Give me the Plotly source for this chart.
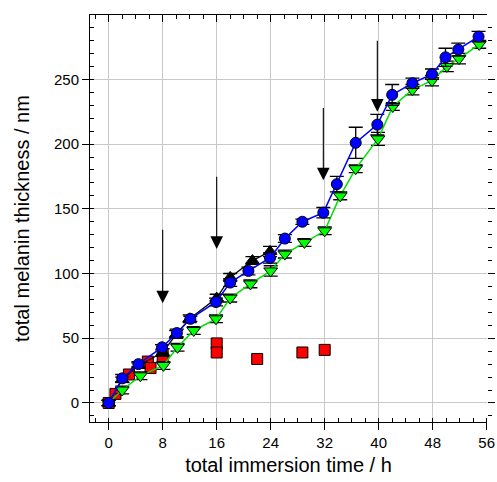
import plotly.graph_objects as go

# ---- data ----
blue_x = [0, 2, 4.4, 7.9, 10.1, 12.1, 15.9, 18, 20.7, 23.9, 26.1, 28.7, 31.8, 33.8, 36.6, 39.8, 42, 45, 47.9, 49.9, 51.8, 54.8]
blue_y = [0, 19, 30, 43, 54, 65, 78, 93, 102, 112, 127, 140, 147, 169, 201, 215, 238, 247, 254, 267, 273, 283]
blue_err = [2, 3, 2, 2, 3, 2, 3, 3, 3, 4, 3, 2, 4, 6, 12, 8, 8, 4, 4, 7, 5, 4]

green_x = [0, 2, 4.7, 8.1, 10.2, 12.6, 15.9, 18, 21, 24, 26.1, 29, 32, 34.3, 36.6, 39.9, 42.1, 45, 47.9, 50.1, 51.9, 54.9]
green_y = [0, 10, 21, 29, 43, 56, 65, 81, 92, 102, 115, 124, 133, 160, 181, 204, 229, 242, 249, 260, 266, 277]
green_err = [2, 3, 3, 3, 3, 3, 3, 3, 3, 4, 3, 3, 3, 3, 3, 5, 3, 4, 4, 4, 4, 3]

black_x = [0, 2, 4.4, 8, 10, 12, 16, 18, 21.3, 23.9]
black_y = [0, 18, 29, 39, 53, 65, 81, 97, 110, 117]
black_err = [2, 2, 2, 3, 3, 3, 3, 3, 3, 4]

red_x = [0, 1, 3, 5.8, 6.2, 8, 16, 16, 22, 28.7, 32]
red_y = [0, 7, 22, 32, 27, 36, 46, 39, 34, 39, 41]

arrow_x = [8, 16, 31.8, 39.8]
arrow_top = [135, 176, 229, 281]
arrow_tip = [77, 119, 172, 225]

x_ticks = [0, 8, 16, 24, 32, 40, 48, 56]
y_ticks = [0, 50, 100, 150, 200, 250]

FONT = "Liberation Sans, Arial, Helvetica, sans-serif"
XR = [-2.77, 56.05]
YR = [-14.7, 299.7]

fig = go.Figure()

err_style = dict(type="data", color="black", thickness=1.3, width=7)

fig.add_trace(go.Scatter(
    x=red_x, y=red_y, mode="markers",
    marker=dict(symbol="square", size=11, color="#ff0000", line=dict(color="black", width=1)),
    showlegend=False))

fig.add_trace(go.Scatter(
    x=black_x, y=black_y, mode="lines+markers",
    line=dict(color="black", width=1.3),
    marker=dict(symbol="triangle-up", size=12, color="black", line=dict(color="black", width=1)),
    error_y=dict(array=black_err, **err_style),
    showlegend=False))

fig.add_trace(go.Scatter(
    x=green_x, y=green_y, mode="lines+markers",
    line=dict(color="#00e000", width=1.5),
    marker=dict(symbol="triangle-down", size=12, color="#00ff00", line=dict(color="black", width=1)),
    error_y=dict(array=green_err, **err_style),
    showlegend=False))

fig.add_trace(go.Scatter(
    x=blue_x, y=blue_y, mode="lines+markers",
    line=dict(color="#0000ff", width=1.5),
    marker=dict(symbol="circle", size=11, color="#0000ff", line=dict(color="black", width=1)),
    error_y=dict(array=blue_err, **err_style),
    showlegend=False))

for ax_, top, tip in zip(arrow_x, arrow_top, arrow_tip):
    fig.add_annotation(x=ax_, y=tip, ax=ax_, ay=top, xref="x", yref="y",
                       axref="x", ayref="y", showarrow=True, text="",
                       arrowhead=2, arrowsize=2.3, arrowwidth=1.1, arrowcolor="black")

fig.update_layout(
    width=497, height=482,
    margin=dict(l=90, r=10, t=15, b=60, autoexpand=False),
    paper_bgcolor="white", plot_bgcolor="white",
    font=dict(family=FONT, size=15, color="black"),
    xaxis=dict(
        range=XR, tickvals=x_ticks, ticktext=[str(v) for v in x_ticks],
        showline=True, linecolor="black", linewidth=1, automargin=False,
        ticklabeloverflow="allow",
        ticks="outside", ticklen=7, tickwidth=1, tickcolor="black",
        showgrid=True, gridcolor="#c8c8c8", gridwidth=1, zeroline=False,
        minor=dict(dtick=2, tick0=0, ticks="inside", ticklen=4, tickcolor="black", showgrid=False),
        title=dict(text="total immersion time / h", font=dict(size=20), standoff=7),
        tickfont=dict(size=15),
    ),
    yaxis=dict(
        range=YR, tickvals=y_ticks, ticktext=[str(v) for v in y_ticks],
        showline=True, linecolor="black", linewidth=1, automargin=False,
        ticks="outside", ticklen=7, tickwidth=1, tickcolor="black",
        showgrid=True, gridcolor="#c8c8c8", gridwidth=1, zeroline=False,
        minor=dict(dtick=10, tick0=0, ticks="inside", ticklen=4, tickcolor="black", showgrid=False),
        title=dict(text="total melanin thickness / nm", font=dict(size=20), standoff=18),
        tickfont=dict(size=15),
    ),
    xaxis2=dict(
        range=XR, overlaying="x", side="top", anchor="y", automargin=False,
        tickvals=x_ticks, showticklabels=False,
        showline=True, linecolor="black", linewidth=1,
        ticks="inside", ticklen=7, tickcolor="black",
        showgrid=False, zeroline=False,
        minor=dict(dtick=2, tick0=0, ticks="inside", ticklen=4, tickcolor="black", showgrid=False),
    ),
    yaxis2=dict(
        range=YR, overlaying="y", side="right", anchor="x", automargin=False,
        tickvals=y_ticks, showticklabels=False,
        showline=False,
        ticks="outside", ticklen=7, tickcolor="black",
        showgrid=False, zeroline=False,
        minor=dict(dtick=10, tick0=0, ticks="outside", ticklen=4, tickcolor="black", showgrid=False),
    ),
)

# invisible trace to activate the secondary axes
fig.add_trace(go.Scatter(x=[None], y=[None], xaxis="x2", yaxis="y2", showlegend=False, hoverinfo="skip"))

fig.write_html("out.html", config={"displayModeBar": False},
               post_script="document.body.style.margin='0';document.body.style.overflow='hidden';")
